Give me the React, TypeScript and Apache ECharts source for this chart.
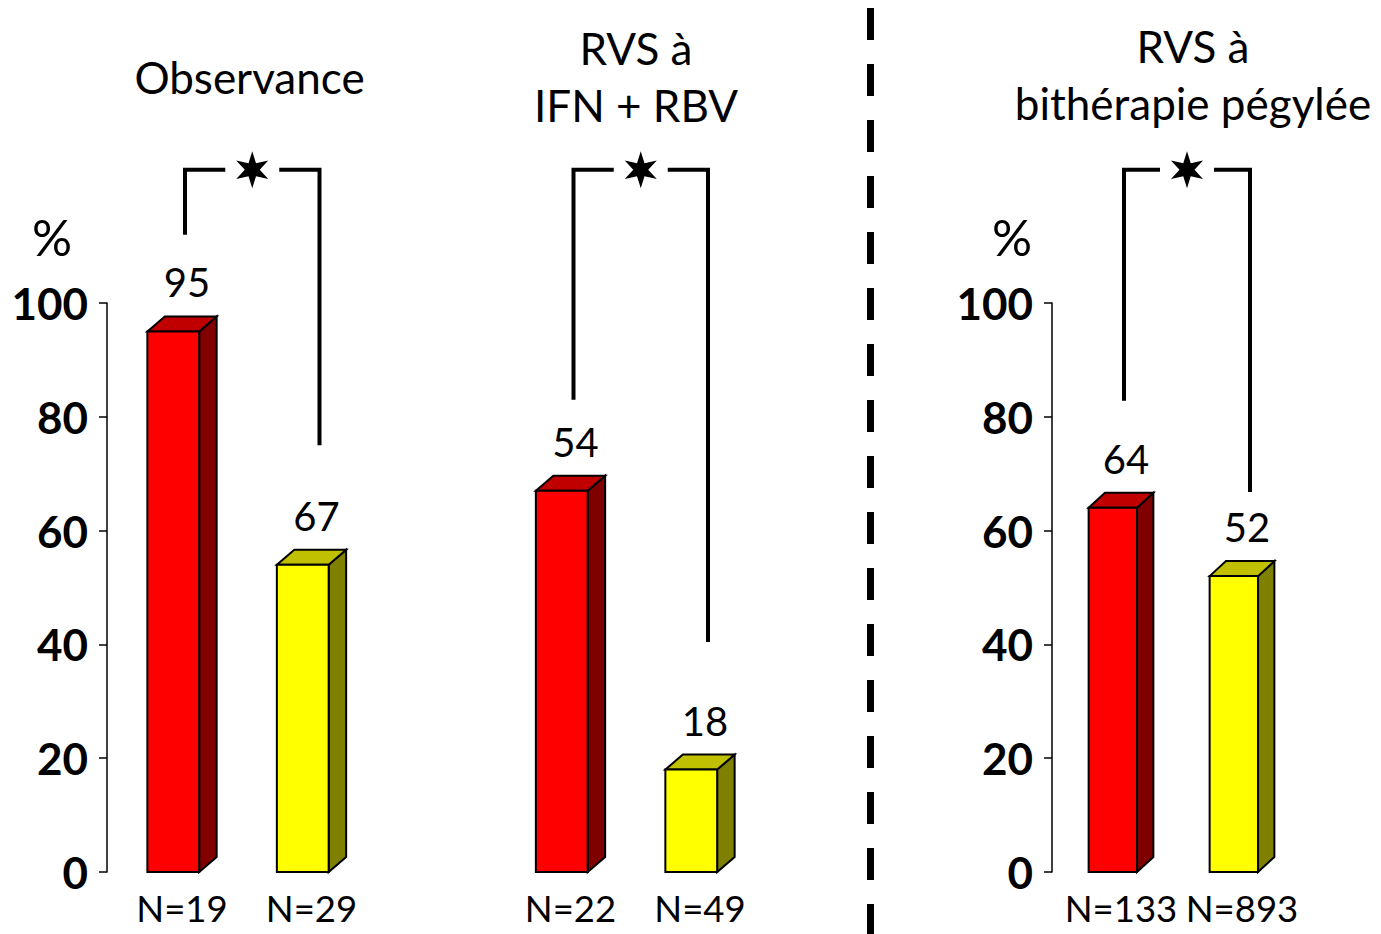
import React, { useEffect, useRef } from "react";
import * as echarts from "echarts";

// ---- data ----
const leftCategories = ["N=19", "N=29", "", "N=22", "N=49"];
const leftValues = [95, 54, null, 67, 18];
const leftLabels = ["95", "67", "", "54", "18"];
const leftKinds = ["red", "yellow", "", "red", "yellow"];

const rightCategories = ["N=133", "N=893"];
const rightValues = [64, 52];
const rightLabels = ["64", "52"];
const rightKinds = ["red", "yellow"];

// bracket: [leftIndex, rightIndex, leftEnd, rightEnd, top]
const leftBrackets = [
  [0, 1, 112, 75, 123.4],
  [3, 4, 83, 40.4, 123.4],
];
const rightBrackets = [[0, 1, 82.8, 66.8, 123.4]];

const titles = ["Observance", "RVS à\nIFN + RBV", "RVS à\nbithérapie pégylée"];
const yTicks = [0, 20, 40, 60, 80, 100];

const FONT = "Lato";
const COLORS: Record<string, { front: string; top: string; side: string }> = {
  red: { front: "#FF0000", top: "#C00000", side: "#800000" },
  yellow: { front: "#FFFF00", top: "#C0C000", side: "#808000" },
};

function buildBars(values: (number | null)[], labels: string[], kinds: string[]) {
  const out: any[] = [];
  values.forEach((v, i) => {
    if (v == null) return;
    out.push({ value: [i, v], label: labels[i], kind: kinds[i] });
  });
  return out;
}

function barRender(items: any[]) {
  return (params: any, api: any) => {
    const item = items[params.dataIndex];
    const idx = api.value(0);
    const v = api.value(1);
    const base = api.coord([idx, 0]);
    const top = api.coord([idx, v]);
    const band = api.size([1, 0])[0];
    const fw = band * 0.4;
    const dx = band * 0.135;
    const dy = 15;
    const fl = base[0] - (fw + dx) / 2;
    const fr = fl + fw;
    const yT = top[1];
    const yB = base[1];
    const c = COLORS[item.kind];
    const stroke = { stroke: "#000", lineWidth: 2, lineJoin: "miter" };
    return {
      type: "group",
      children: [
        {
          type: "polygon",
          shape: { points: [[fr, yT], [fr + dx, yT - dy], [fr + dx, yB - dy], [fr, yB]] },
          style: { fill: c.side, ...stroke },
        },
        {
          type: "polygon",
          shape: { points: [[fl, yT], [fl + dx, yT - dy], [fr + dx, yT - dy], [fr, yT]] },
          style: { fill: c.top, ...stroke },
        },
        {
          type: "rect",
          shape: { x: fl, y: yT, width: fw, height: yB - yT },
          style: { fill: c.front, ...stroke },
        },
        {
          type: "text",
          x: base[0] + 5,
          y: yT - 49,
          style: {
            text: item.label,
            fill: "#000",
            font: `40px ${FONT}`,
            align: "center",
            verticalAlign: "middle",
          },
        },
      ],
    };
  };
}

function starPoints(cx: number, cy: number, R: number, r: number) {
  const pts: number[][] = [];
  for (let i = 0; i < 12; i++) {
    const a = -Math.PI / 2 + (i * Math.PI) / 6;
    const rad = i % 2 === 0 ? R : r;
    pts.push([cx + rad * Math.cos(a), cy + rad * Math.sin(a)]);
  }
  return pts;
}

function bracketRender(params: any, api: any) {
  const li = api.value(0);
  const ri = api.value(1);
  const pl = api.coord([li, api.value(2)]);
  const pr = api.coord([ri, api.value(3)]);
  const pt = api.coord([li, api.value(4)]);
  const xl = pl[0] + 3;
  const xr = pr[0] + 8;
  const yTop = pt[1];
  const xm = (xl + xr) / 2;
  const gap = 27;
  const st = { stroke: "#000", lineWidth: 4, fill: "none", lineJoin: "miter", lineCap: "butt" };
  return {
    type: "group",
    children: [
      {
        type: "polyline",
        shape: { points: [[xl, pl[1]], [xl, yTop], [xm - gap, yTop]] },
        style: st,
      },
      {
        type: "polyline",
        shape: { points: [[xm + gap, yTop], [xr, yTop], [xr, pr[1]]] },
        style: st,
      },
      {
        type: "polygon",
        shape: { points: starPoints(xm, yTop, 18.5, 7.5) },
        style: { fill: "#000" },
      },
    ],
  };
}

function yAxisDef(gridIndex: number, offset: number, padRight: number) {
  return {
    type: "value",
    gridIndex,
    min: 0,
    max: 100,
    interval: 20,
    offset,
    name: "%",
    nameLocation: "end",
    nameGap: 40,
    nameTextStyle: {
      fontFamily: FONT,
      fontSize: 50,
      color: "#000",
      lineHeight: 52,
      padding: [0, padRight, 0, 0],
    },
    axisLine: { show: true, lineStyle: { color: "#000", width: 1.5 } },
    axisTick: { show: true, length: 8, inside: false, lineStyle: { color: "#000", width: 1.5 } },
    axisLabel: {
      margin: 19,
      fontFamily: FONT,
      fontWeight: "bold",
      fontSize: 44,
      color: "#000",
      formatter: (v: number) => (yTicks.includes(v) ? String(v) : ""),
    },
    splitLine: { show: false },
  };
}

function xAxisDef(gridIndex: number, data: string[]) {
  return {
    type: "category",
    gridIndex,
    data,
    axisLine: { show: false },
    axisTick: { show: false },
    axisLabel: {
      margin: 17,
      fontFamily: FONT,
      fontSize: 36.5,
      color: "#000",
      interval: 0,
    },
    splitLine: { show: false },
  };
}

const titleStyle = {
  fontFamily: FONT,
  fontSize: 44,
  fontWeight: "normal",
  color: "#000",
  lineHeight: 57,
};

export default function App() {
  const ref = useRef<HTMLDivElement>(null);
  useEffect(() => {
    if (!ref.current) return;
    const chart = echarts.init(ref.current, null, { renderer: "svg" });
    const leftItems = buildBars(leftValues, leftLabels, leftKinds);
    const rightItems = buildBars(rightValues, rightLabels, rightKinds);
    chart.setOption({
      animation: false,
      backgroundColor: "#fff",
      title: [
        { text: titles[0], left: 249.5, top: 48, textAlign: "center", padding: 0, textStyle: titleStyle },
        { text: titles[1], left: 636, top: 19.5, textAlign: "center", padding: 0, textStyle: titleStyle },
        { text: titles[2], left: 1193, top: 17.5, textAlign: "center", padding: 0, textStyle: titleStyle },
      ],
      grid: [
        { left: 117.25, top: 303, width: 647.5, height: 569 },
        { left: 1060.5, top: 303, width: 242, height: 569 },
      ],
      xAxis: [xAxisDef(0, leftCategories), xAxisDef(1, rightCategories)],
      yAxis: [yAxisDef(0, 10.25, 110), yAxisDef(1, 8.5, 80)],
      graphic: [
        {
          type: "line",
          shape: { x1: 870.5, y1: 8, x2: 870.5, y2: 934 },
          style: { stroke: "#000", lineWidth: 7, lineDash: [32, 24] },
        },
      ],
      series: [
        {
          type: "custom",
          xAxisIndex: 0,
          yAxisIndex: 0,
          clip: false,
          data: leftItems.map((d) => d.value),
          renderItem: barRender(leftItems),
        },
        {
          type: "custom",
          xAxisIndex: 0,
          yAxisIndex: 0,
          clip: false,
          data: leftBrackets,
          renderItem: bracketRender,
        },
        {
          type: "custom",
          xAxisIndex: 1,
          yAxisIndex: 1,
          clip: false,
          data: rightItems.map((d) => d.value),
          renderItem: barRender(rightItems),
        },
        {
          type: "custom",
          xAxisIndex: 1,
          yAxisIndex: 1,
          clip: false,
          data: rightBrackets,
          renderItem: bracketRender,
        },
      ],
    });
    return () => chart.dispose();
  }, []);
  return (
    <div
      ref={ref}
      style={{ position: "fixed", left: 0, top: 0, width: 1381, height: 934, background: "#fff" }}
    />
  );
}
